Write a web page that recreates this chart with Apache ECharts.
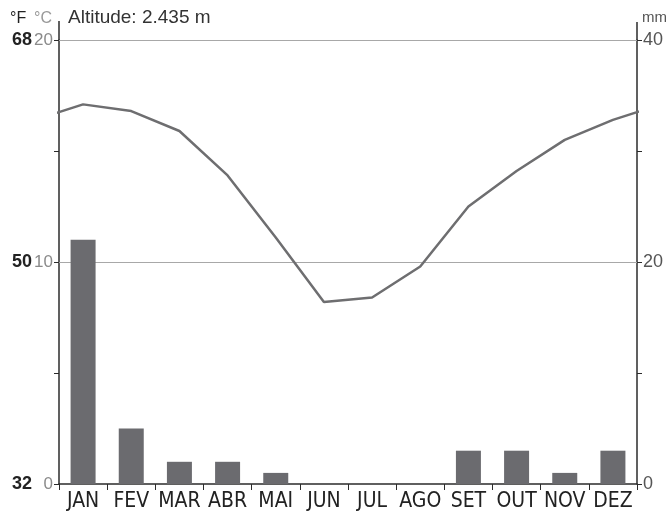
<!DOCTYPE html>
<html>
<head>
<meta charset="utf-8">
<script src="https://cdn.jsdelivr.net/npm/echarts@6/dist/echarts.min.js"></script>
<style>
  html, body { margin: 0; padding: 0; background: #fff; }
  #chart { width: 667px; height: 514px; }
</style>
</head>
<body>
<div id="chart"></div>
<script>
// Climate chart: monthly precipitation (bars, mm) and mean temperature (line, °C)
const months = ['JAN', 'FEV', 'MAR', 'ABR', 'MAI', 'JUN', 'JUL', 'AGO', 'SET', 'OUT', 'NOV', 'DEZ'];
const precipitation = [22, 5, 2, 2, 1, 0, 0, 0, 3, 3, 1, 3];
const temperature = [17.1, 16.8, 15.9, 13.9, 11.1, 8.2, 8.4, 9.8, 12.5, 14.1, 15.5, 16.4];
const celsiusLabels = [0, 10, 20];
const mmLabels = [0, 20, 40];

const GRID = { left: 59, right: 30, top: 40, bottom: 30 };
const W = 667, H = 514;
const font = "'Liberation Sans', Arial, sans-serif";
const narrow = "'Liberation Sans Narrow', 'DejaVu Sans Condensed', 'Liberation Sans', sans-serif";

// Temperature points sit at month centres on a 0..12 value axis; the
// December/January neighbours on either side let the curve run to the plot edges.
const n = months.length;
const tempPoints = [[-0.5, temperature[n - 1]]]
  .concat(temperature.map((t, i) => [i + 0.5, t]))
  .concat([[n + 0.5, temperature[0]]]);

const chart = echarts.init(document.getElementById('chart'), null, { renderer: 'canvas' });

const axisColor = '#2b2b2b';
const xRight = W - GRID.right;

chart.setOption({
  animation: false,
  backgroundColor: '#fff',
  grid: { left: GRID.left, right: GRID.right, top: GRID.top, bottom: GRID.bottom, containLabel: false },
  xAxis: [
    {
      type: 'category',
      data: months,
      boundaryGap: true,
      axisLine: { lineStyle: { color: axisColor, width: 1.5 } },
      axisTick: { show: true, alignWithLabel: false, length: 6, lineStyle: { color: axisColor, width: 1 } },
      axisLabel: { color: '#222', fontFamily: narrow, fontSize: 21, margin: 7, interval: 0 },
      splitLine: { show: false }
    },
    {
      type: 'value',
      min: 0,
      max: n,
      show: false
    }
  ],
  yAxis: [
    {
      // °C
      type: 'value',
      position: 'left',
      min: 0,
      max: 20,
      interval: 5,
      axisLine: { show: true, onZero: false, lineStyle: { color: axisColor, width: 1.5 } },
      axisTick: { show: true, length: 5, lineStyle: { color: axisColor, width: 1 } },
      axisLabel: {
        color: '#8a8a8a', fontFamily: font, fontSize: 17, margin: 6,
        formatter: v => (celsiusLabels.includes(v) ? String(v) : '')
      },
      splitLine: { show: false }
    },
    {
      // mm
      type: 'value',
      position: 'right',
      min: 0,
      max: 40,
      interval: 10,
      axisLine: { show: true, onZero: false, lineStyle: { color: axisColor, width: 1.5 } },
      axisTick: { show: true, length: 5, lineStyle: { color: axisColor, width: 1 } },
      axisLabel: {
        color: '#555', fontFamily: font, fontSize: 18, margin: 6,
        formatter: v => (mmLabels.includes(v) ? String(v) : '')
      },
      splitLine: { show: false }
    },
    {
      // °F companion scale of the °C axis
      type: 'value',
      position: 'left',
      offset: 21,
      min: 32,
      max: 68,
      interval: 18,
      axisLine: { show: false },
      axisTick: { show: false },
      axisLabel: { color: '#222', fontFamily: font, fontSize: 18, fontWeight: 'bold', margin: 6 },
      splitLine: { show: false }
    }
  ],
  series: [
    {
      name: 'Precipitação',
      type: 'bar',
      xAxisIndex: 0,
      yAxisIndex: 1,
      data: precipitation,
      barWidth: 25,
      itemStyle: { color: '#6b6b6f' },
      silent: true,
      z: 2
    },
    {
      name: 'Temperatura',
      type: 'line',
      xAxisIndex: 1,
      yAxisIndex: 0,
      data: tempPoints,
      clip: true,
      symbol: 'none',
      lineStyle: { color: '#6e6e70', width: 2.5 },
      silent: true,
      z: 4,
      markLine: {
        silent: true,
        symbol: 'none',
        label: { show: false },
        lineStyle: { color: '#a8a8a8', width: 1, type: 'solid' },
        data: [{ yAxis: 10 }, { yAxis: 20 }],
        z: 1
      }
    }
  ],
  graphic: [
    // axis lines continue a little above the top of the plot
    { type: 'line', shape: { x1: GRID.left, y1: 21, x2: GRID.left, y2: GRID.top }, style: { stroke: axisColor, lineWidth: 1.5 } },
    { type: 'line', shape: { x1: xRight, y1: 22, x2: xRight, y2: GRID.top }, style: { stroke: axisColor, lineWidth: 1.5 } },
    { type: 'text', left: 10, top: 11, style: { text: '°F', fill: '#222', font: '16px ' + font } },
    { type: 'text', left: 34, top: 11, style: { text: '°C', fill: '#999', font: '16px ' + font } },
    { type: 'text', left: 68, top: 8, style: { text: 'Altitude: 2.435 m', fill: '#333', font: '19px ' + font } },
    { type: 'text', left: 642, top: 10, style: { text: 'mm', fill: '#555', font: '15px ' + font } }
  ]
});
</script>
</body>
</html>
